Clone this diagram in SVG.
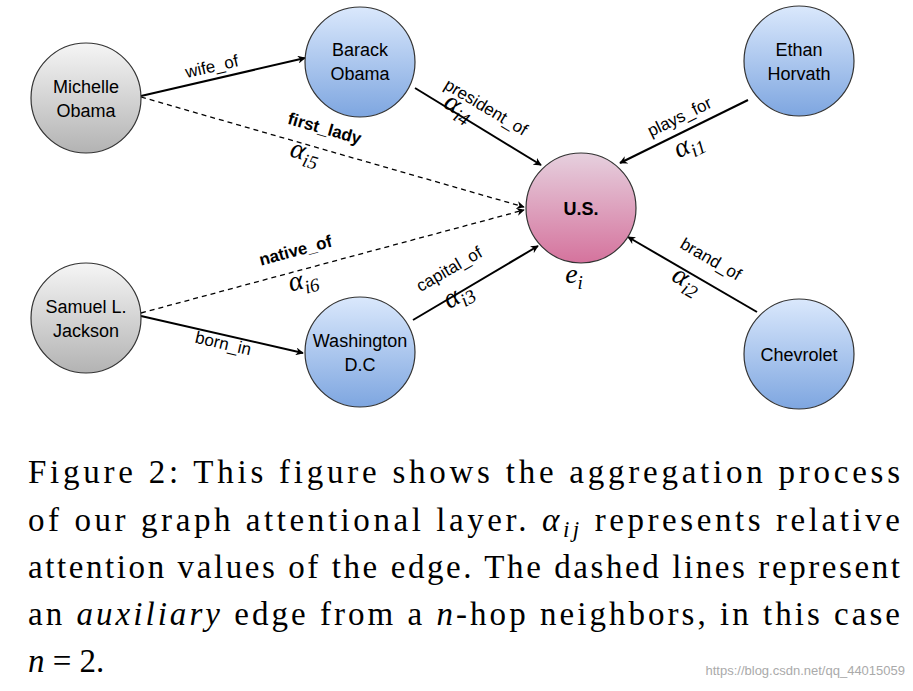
<svg xmlns="http://www.w3.org/2000/svg" width="913" height="691" viewBox="0 0 913 691">
<style>
.n{stroke:#333;stroke-width:1.2}
.lb{font-family:"Liberation Sans",Arial,sans-serif;font-size:18px;text-anchor:middle;fill:#000}
.el{font-family:"Liberation Sans",Arial,sans-serif;font-size:17px;text-anchor:middle;fill:#000}
.b{font-weight:bold}
.m{font-family:"Liberation Serif","Times New Roman",serif;font-style:italic;font-size:28px;text-anchor:middle}
.s{font-size:19px}
.e{stroke:#000;stroke-width:2;fill:none;marker-end:url(#a)}
.d{stroke-dasharray:5,4;stroke-width:1.3}
.c{font-family:"Liberation Serif","Times New Roman",serif;font-size:33px;fill:#000}
</style>
<defs>
<linearGradient id="g" x1="0" y1="0" x2="0" y2="1"><stop offset="0" stop-color="#f5f5f5"/><stop offset="1" stop-color="#b3b3b3"/></linearGradient>
<linearGradient id="bl" x1="0" y1="0" x2="0" y2="1"><stop offset="0" stop-color="#dae8fc"/><stop offset="1" stop-color="#7ea6e0"/></linearGradient>
<linearGradient id="p" x1="0" y1="0" x2="0" y2="1"><stop offset="0" stop-color="#e6d0de"/><stop offset="1" stop-color="#d5739d"/></linearGradient>
<marker id="a" viewBox="0 0 10 10" refX="9" refY="5" markerWidth="8" markerHeight="8" markerUnits="userSpaceOnUse" orient="auto"><path d="M0,0L10,5L0,10L3,5z" fill="#000"/></marker>
</defs>
<g id="connectors">
<line class="e" x1="141" y1="96" x2="305" y2="58"/>
<line class="e" x1="415" y1="88" x2="541" y2="165"/>
<line class="e d" x1="141" y1="97" x2="524" y2="207"/>
<line class="e" x1="748" y1="100" x2="620" y2="163"/>
<line class="e d" x1="141" y1="313" x2="524" y2="210"/>
<line class="e" x1="141" y1="316" x2="303" y2="353"/>
<line class="e" x1="413" y1="320" x2="538" y2="246"/>
<line class="e" x1="757" y1="312" x2="628" y2="237"/>
<text class="el" transform="translate(213,72) rotate(-13)">wife_of</text>
<text class="el" transform="translate(483,112) rotate(31)">president_of</text>
<text class="m" transform="translate(455,114) rotate(31)">α<tspan class="s" dy="6">i4</tspan></text>
<text class="el b" transform="translate(323,134) rotate(16)">first_lady</text>
<text class="m" transform="translate(303,160) rotate(16)">α<tspan class="s" dy="6">i5</tspan></text>
<text class="el" transform="translate(682,122) rotate(-26)">plays_for</text>
<text class="m" transform="translate(692,152) rotate(-26)">α<tspan class="s" dy="6">i1</tspan></text>
<text class="el b" transform="translate(297,256) rotate(-15)">native_of</text>
<text class="m" transform="translate(305,288) rotate(-15)">α<tspan class="s" dy="6">i6</tspan></text>
<text class="el" transform="translate(222,349) rotate(13)">born_in</text>
<text class="el" transform="translate(452,274) rotate(-30)">capital_of</text>
<text class="m" transform="translate(462,302) rotate(-30)">α<tspan class="s" dy="6">i3</tspan></text>
<text class="el" transform="translate(708,264) rotate(30)">brand_of</text>
<text class="m" transform="translate(683,287) rotate(30)">α<tspan class="s" dy="6">i2</tspan></text>
</g>
<g id="michelle"><circle class="n" cx="86" cy="98" r="55" fill="url(#g)"/><text class="lb" x="86" y="93">Michelle</text><text class="lb" x="86" y="117">Obama</text></g>
<g id="barack"><circle class="n" cx="360" cy="62" r="55" fill="url(#bl)"/><text class="lb" x="360" y="56">Barack</text><text class="lb" x="360" y="80">Obama</text></g>
<g id="ethan"><circle class="n" cx="799" cy="61" r="55" fill="url(#bl)"/><text class="lb" x="799" y="56">Ethan</text><text class="lb" x="799" y="80">Horvath</text></g>
<g id="us"><circle class="n" cx="581" cy="208" r="55" fill="url(#p)"/><text class="lb b" x="581" y="215" font-size="16">U.S.</text><text class="m" x="574" y="283">e<tspan class="s" dy="6">i</tspan></text></g>
<g id="samuel"><circle class="n" cx="86" cy="318" r="55" fill="url(#g)"/><text class="lb" x="86" y="313">Samuel  L.</text><text class="lb" x="86" y="337">Jackson</text></g>
<g id="washington"><circle class="n" cx="360" cy="352" r="55" fill="url(#bl)"/><text class="lb" x="360" y="347">Washington</text><text class="lb" x="360" y="371">D.C</text></g>
<g id="chevrolet"><circle class="n" cx="799" cy="354" r="55" fill="url(#bl)"/><text class="lb" x="799" y="361">Chevrolet</text></g>
<g id="caption">
<text class="c" x="28" y="483" textLength="872" lengthAdjust="spacing">Figure 2:  This figure shows the aggregation process</text>
<text class="c" x="28" y="531" textLength="872" lengthAdjust="spacing">of our graph attentional layer.  <tspan font-style="italic">α</tspan><tspan font-style="italic" font-size="23" dy="6">ij</tspan><tspan dy="-6"> represents relative</tspan></text>
<text class="c" x="28" y="578" textLength="872" lengthAdjust="spacing">attention values of the edge. The dashed lines represent</text>
<text class="c" x="28" y="625" textLength="872" lengthAdjust="spacing">an <tspan font-style="italic">auxiliary</tspan> edge from a <tspan font-style="italic">n</tspan>-hop neighbors, in this case</text>
<text class="c" x="28" y="672"><tspan font-style="italic">n</tspan> = 2.</text>
<text x="905" y="675" text-anchor="end" font-family="Liberation Sans,sans-serif" font-size="13" fill="#aaa">https://blog.csdn.net/qq_44015059</text>
</g>
</svg>
